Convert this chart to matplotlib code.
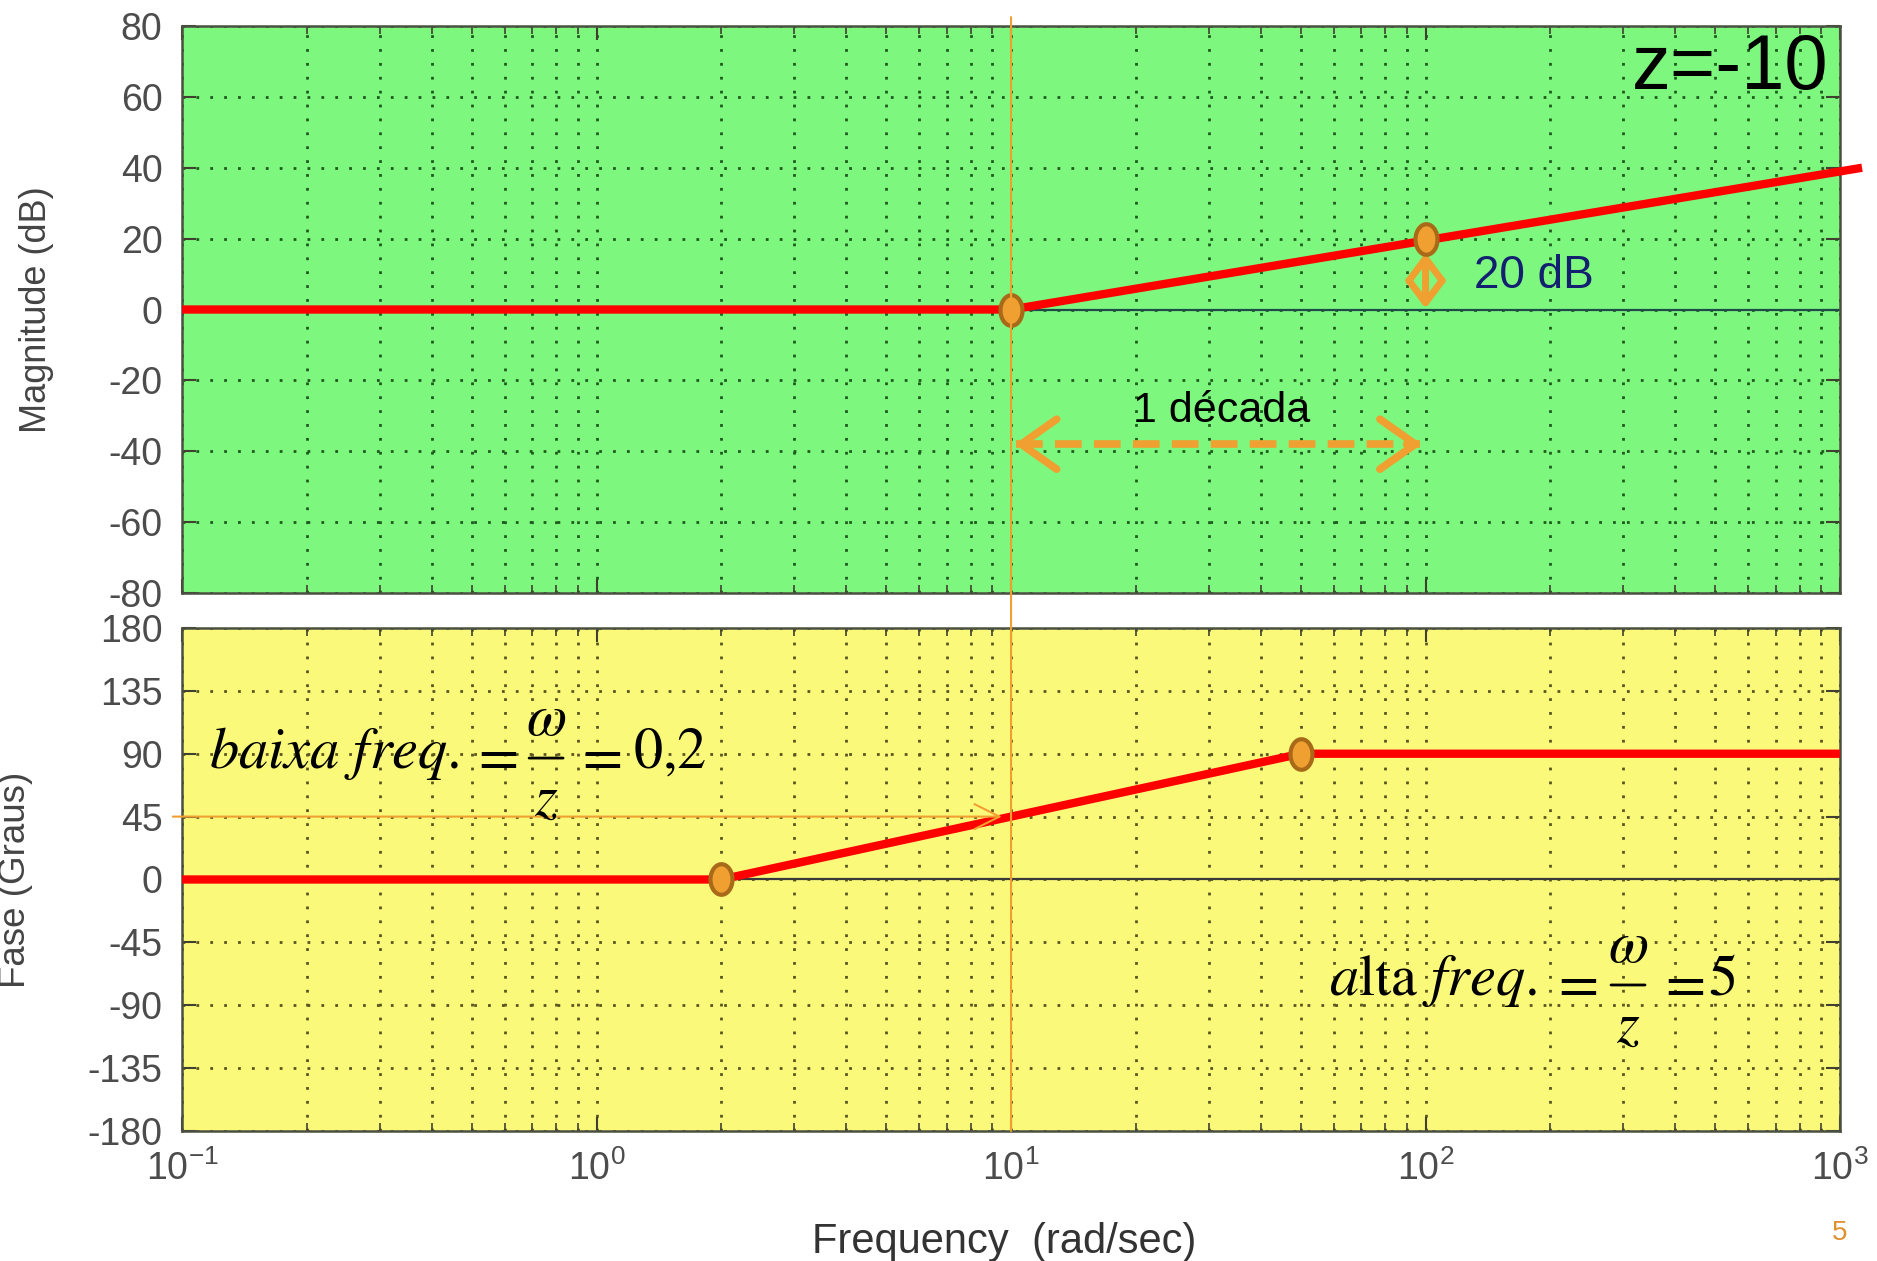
import numpy as np
import matplotlib
matplotlib.use("Agg")
import matplotlib.pyplot as plt
from matplotlib.patches import ConnectionPatch
from matplotlib.transforms import offset_copy

plt.rcParams['font.family'] = ['Liberation Sans', 'DejaVu Sans']
plt.rcParams['mathtext.fontset'] = 'stix'
plt.rcParams['axes.unicode_minus'] = False

# asymptotic Bode data for a zero at z = -10
mag_w = [0.1, 10, 1130]
mag_db = [0, 0, 40]
phase_w = [0.1, 2, 50, 1000]
phase_deg = [0, 0, 90, 90]

# break points marked on the curves
mag_pts_w = [10, 100]
mag_pts_db = [0, 20]
phase_pts_w = [2, 50]
phase_pts_deg = [0, 90]

mag_ticks = [-80, -60, -40, -20, 0, 20, 40, 60, 80]
phase_ticks = [-180, -135, -90, -45, 0, 45, 90, 135, 180]
x_ticks = [0.1, 1, 10, 100, 1000]
x_ticklabels = [r'$\mathregular{10^{-1}}$', r'$\mathregular{10^{0}}$',
                r'$\mathregular{10^{1}}$', r'$\mathregular{10^{2}}$',
                r'$\mathregular{10^{3}}$']

GREEN = '#7ef77e'
YELLOW = '#fbf97a'
RED = '#ff0000'
ORANGE = '#f0a030'
TICK_GREY = '#4c4c4c'

fig = plt.figure(figsize=(18.77, 12.61), dpi=100)
ax_mag = fig.add_axes([0.0970, 0.5297, 0.8833, 0.4497])
ax_ph = fig.add_axes([0.0970, 0.1031, 0.8833, 0.3989], sharex=ax_mag)

# ellipse-shaped marker for the break points
t = np.linspace(0, 2 * np.pi, 60)
oval = list(zip(0.72 * np.cos(t), np.sin(t)))


def style_axes(ax, face, grid_col, ticks, ylim):
    ax.set_facecolor(face)
    ax.set_xscale('log')
    ax.set_xlim(0.1, 1000)
    ax.set_ylim(*ylim)
    ax.set_yticks(ticks)
    ax.grid(True, which='major', axis='y', color=grid_col, ls=(0, (1, 4)), lw=2)
    ax.grid(True, which='both', axis='x', color=grid_col, ls=(0, (1, 4)), lw=2)
    ax.tick_params(which='both', direction='in', top=True, right=True,
                   color='#404030', labelcolor=TICK_GREY, labelsize=27, pad=14)
    ax.tick_params(which='major', length=10, width=1.5)
    ax.tick_params(which='minor', length=6, width=1.2)
    for s in ax.spines.values():
        s.set_color('#4a5040')
        s.set_linewidth(1.8)


def fraction_formula(ax, anchor, left, right, pos, size=42):
    """Equation-editor style line: left = omega/z = right, laid out in pixels."""
    def put(s, dx, dy, ha, va):
        ax.annotate(s, xy=anchor, xytext=(dx, dy), textcoords='offset pixels',
                    fontsize=size, ha=ha, va=va, color='black',
                    annotation_clip=False)
    put(left, 0, -10, 'left', 'baseline')
    put(r'$=$', pos[0], 0, 'center', 'center')
    put(r'$\omega$', pos[1], 38, 'center', 'center')
    put(r'$z$', pos[1], -42, 'center', 'center')
    put(r'$=$', pos[2], 0, 'center', 'center')
    put(right, pos[3], -10, 'left', 'baseline')
    # fraction bar
    bar_l = offset_copy(ax.transData, fig=ax.figure, x=pos[1] - 17, y=0, units='dots')
    bar_r = offset_copy(ax.transData, fig=ax.figure, x=pos[1] + 17, y=0, units='dots')
    ax.annotate('', xy=anchor, xycoords=bar_r, xytext=anchor, textcoords=bar_l,
                annotation_clip=False,
                arrowprops=dict(arrowstyle='-', color='black', lw=2,
                                shrinkA=0, shrinkB=0))


style_axes(ax_mag, GREEN, '#1d5a1d', mag_ticks, (-80, 80))
style_axes(ax_ph, YELLOW, '#5a5520', phase_ticks, (-180, 180))
plt.setp(ax_mag.get_xticklabels(), visible=False)
ax_ph.set_xticks(x_ticks)
ax_ph.set_xticklabels(x_ticklabels)

# magnitude
ax_mag.axhline(0, color='#1f4a4a', lw=1.6, zorder=2)
ax_mag.plot(mag_w, mag_db, color=RED, lw=6, solid_capstyle='butt',
            clip_on=False, zorder=3)
ax_mag.plot(mag_pts_w, mag_pts_db, ls='none', marker=oval, ms=22,
            mfc=ORANGE, mec='#a86a18', mew=3, zorder=4)

# phase
ax_ph.axhline(0, color='#3a3a3a', lw=1.6, zorder=2)
ax_ph.plot(phase_w, phase_deg, color=RED, lw=6, solid_capstyle='butt',
           clip_on=False, zorder=3)
ax_ph.plot(phase_pts_w, phase_pts_deg, ls='none', marker=oval, ms=22,
           mfc=ORANGE, mec='#a86a18', mew=3, zorder=4)

# one decade span, dashed shaft with open heads
ax_mag.plot([10.3, 97], [-38, -38], color=ORANGE, lw=5.5, ls=(0, (3.5, 1.6)),
            zorder=3)
for tip, tail in ((10.2, 11), (98, 90)):
    ax_mag.annotate('', xy=(tip, -38), xytext=(tail, -38),
                    arrowprops=dict(arrowstyle='->,head_length=0.85,head_width=0.6',
                                    color=ORANGE, lw=5.5, mutation_scale=30,
                                    shrinkA=0, shrinkB=0), zorder=3)
ax_mag.text(np.sqrt(10 * 100) * 1.02, -28.5, '1 década', fontsize=31,
            ha='center', va='center', color='black')

# 20 dB rise
ax_mag.annotate('', xy=(100, 16), xytext=(100, 0.3),
                arrowprops=dict(arrowstyle='<->,head_length=0.8,head_width=0.6',
                                color=ORANGE, lw=5, mutation_scale=20,
                                shrinkA=0, shrinkB=0), zorder=3)
ax_mag.text(131, 9.5, '20 dB', fontsize=33, color='#132070',
            ha='left', va='center')

ax_mag.text(0.993, 0.925, 'z=-10', transform=ax_mag.transAxes, fontsize=56,
            ha='right', va='center', color='black')

# corner frequency guide lines
fig.add_artist(ConnectionPatch(xyA=(10, 82.5), coordsA=ax_mag.transData,
                               xyB=(10, -180), coordsB=ax_ph.transData,
                               color=ORANGE, lw=1.5))
ax_ph.annotate('', xy=(9.5, 45), xytext=(0.095, 45), annotation_clip=False,
               arrowprops=dict(arrowstyle='->,head_length=0.9,head_width=0.45',
                               color=ORANGE, lw=1.5, mutation_scale=20,
                               shrinkA=0, shrinkB=0))

fraction_formula(ax_ph, (0.1162, 86.9), r'$baixa\ freq.$', r'$0{,}2$',
                 (285, 337, 389, 424))
fraction_formula(ax_ph, (58.5, -75.5), r'$a\mathrm{lta}\ freq.$', r'$5$',
                 (245, 299, 352, 379))

ax_mag.set_ylabel('Magnitude (dB)', fontsize=26, color='#444444')
ax_mag.yaxis.set_label_coords(-0.077, 0.5)
ax_ph.set_ylabel('Fase (Graus)', fontsize=26.5, color='#444444')
ax_ph.yaxis.set_label_coords(-0.09, 0.5)
ax_ph.set_xlabel('Frequency  (rad/sec)', fontsize=30, color='#333333')
ax_ph.xaxis.set_label_coords(0.496, -0.18)

fig.text(1840 / 1877, 1 - 1233 / 1261, '5', fontsize=20, color='#e09030',
         ha='center', va='center')

fig.savefig('out.png', dpi=100, facecolor='white')
